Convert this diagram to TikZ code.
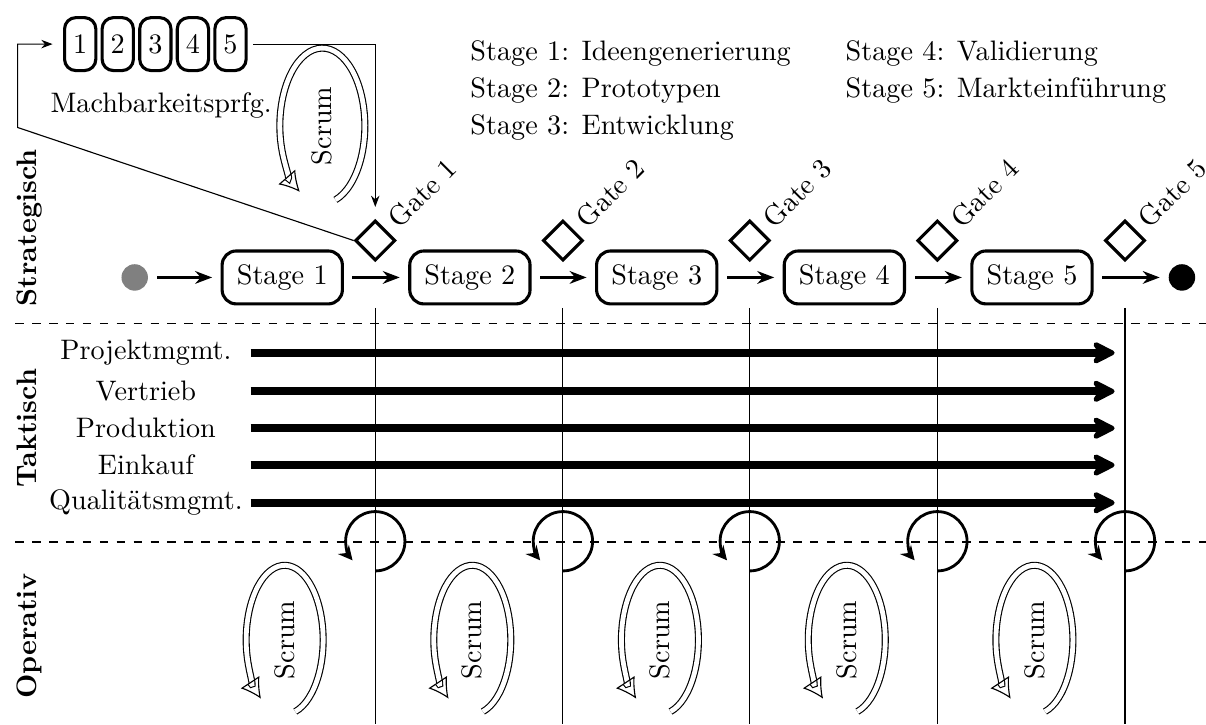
\documentclass[tikz,border=0pt]{standalone}
\usetikzlibrary{arrows.meta,shapes.geometric,positioning}

\tikzset{
  stagebox/.style={draw, line width=1.1pt, rounded corners=5pt, minimum width=1.5cm, minimum height=0.66cm},
  numbox/.style={draw, line width=1.1pt, rounded corners=4pt, minimum width=0.39cm, minimum height=0.66cm, inner sep=0pt},
  gatebox/.style={draw, diamond, aspect=1, line width=1.1pt, minimum size=0.5cm, inner sep=0pt},
  gatelabel/.style={rotate=45, anchor=west},
  dot/.style={circle, minimum size=0.33cm, inner sep=0pt},
  lane/.style={rotate=90, anchor=base, font=\bfseries},
  legend/.style={anchor=base west, inner sep=0pt},
  dept/.style={text width=2.5cm, align=center, inner sep=0.05cm},
  deptarrow/.style={line width=2.8pt, -{Stealth[round,length=10pt,width=10pt]}},
  flow/.style={line width=1pt, shorten <=3pt, shorten >=3pt},
  thinarrow/.style={thin, -{Stealth[length=4pt,width=3pt]}},
  looparrow/.style={line width=1pt, -{Stealth[length=5pt,width=5pt]}},
  scrum/.style={line width=0.4pt, double, double distance=1.7pt, -{Latex[open,length=7pt,width=8pt]}},
  lanesep/.style={thin, dashed},
  gateline/.style={thin}
}

\begin{document}
\begin{tikzpicture}[>={Stealth[length=6pt,width=4.5pt]}]
  \useasboundingbox (0,0) rectangle (15.04,9.03);

  \node[lane] (la1) at (0.46,6.19) {Strategisch};
  \node[lane] (la2) at (0.46,3.69) {Taktisch};
  \node[lane] (la3) at (0.46,1.10) {Operativ};

  \draw[lanesep] (0.19,5.00) -- (15.04,5.00);
  \draw[lanesep] (0.19,2.27) -- (15.04,2.27);

  \node[numbox] (b1) at (1.00,8.48) {1};
  \node[numbox, right=0.04cm of b1] (b2) {2};
  \node[numbox, right=0.04cm of b2] (b3) {3};
  \node[numbox, right=0.04cm of b3] (b4) {4};
  \node[numbox, right=0.04cm of b4] (b5) {5};
  \node (mb) at (2.01,7.72) {Machbarkeitsprfg.};

  \node[legend] (l1) at (5.86,8.28) {Stage 1: Ideengenerierung};
  \node[legend] (l2) at (5.86,7.82) {Stage 2: Prototypen};
  \node[legend] (l3) at (5.86,7.35) {Stage 3: Entwicklung};
  \node[legend] (l4) at (10.54,8.28) {Stage 4: Validierung};
  \node[legend] (l5) at (10.54,7.82) {Stage 5: Markteinführung};

  \node[dot, fill=gray] (st) at (1.68,5.57) {};
  \node[stagebox] (s1) at (3.52,5.57) {Stage 1}
    edge[<-, flow] (st);
  \node[stagebox] (s2) at (5.86,5.57) {Stage 2}
    edge[<-, flow] (s1);
  \node[stagebox] (s3) at (8.19,5.57) {Stage 3}
    edge[<-, flow] (s2);
  \node[stagebox] (s4) at (10.53,5.57) {Stage 4}
    edge[<-, flow] (s3);
  \node[stagebox] (s5) at (12.87,5.57) {Stage 5}
    edge[<-, flow] (s4);
  \node[dot, fill=black] (en) at (14.74,5.57) {}
    edge[<-, flow] (s5);

  \node[gatebox] (g1) at (4.68,6.03) {};
  \node[gatelabel] (gl1) at (g1.north east) {Gate 1};
  \node[gatebox] (g2) at (7.02,6.03) {};
  \node[gatelabel] (gl2) at (g2.north east) {Gate 2};
  \node[gatebox] (g3) at (9.35,6.03) {};
  \node[gatelabel] (gl3) at (g3.north east) {Gate 3};
  \node[gatebox] (g4) at (11.69,6.03) {};
  \node[gatelabel] (gl4) at (g4.north east) {Gate 4};
  \node[gatebox] (g5) at (14.03,6.03) {};
  \node[gatelabel] (gl5) at (g5.north east) {Gate 5};

  \draw[thinarrow, shorten >=0.13cm] (g1.west) -- (0.22,7.44) |- (b1);
  \draw[thinarrow, shorten >=0.15cm, shorten <=0.07cm] (b5) -| (g1);

  \node[rotate=90] (k0) at (4.02,7.46) {Scrum};
  \draw[scrum] (k0) ++(-72:0.53 and 0.97) arc[start angle=-72, end angle=238, x radius=0.53, y radius=0.97];

  \draw[gateline] (g1) ++(0,-0.84) -- ++(0,-5.19);
  \draw[gateline] (g2) ++(0,-0.84) -- ++(0,-5.19);
  \draw[gateline] (g3) ++(0,-0.84) -- ++(0,-5.19);
  \draw[gateline] (g4) ++(0,-0.84) -- ++(0,-5.19);
  \draw[gateline] (g5) ++(0,-0.84) -- ++(0,-5.19);

  \node[dept] (d1) at (1.82,4.63) {Projektmgmt.};
  \node[dept] (d2) at (1.82,4.15) {Vertrieb};
  \node[dept] (d3) at (1.82,3.69) {Produktion};
  \node[dept] (d4) at (1.82,3.23) {Einkauf};
  \node[dept] (d5) at (1.82,2.76) {Qualitätsmgmt.};
  \coordinate (e1) at (13.90,4.63);
  \coordinate (e2) at (13.90,4.15);
  \coordinate (e3) at (13.90,3.69);
  \coordinate (e4) at (13.90,3.23);
  \coordinate (e5) at (13.90,2.76);
  \draw[deptarrow] (d1) -- (e1);
  \draw[deptarrow] (d2) -- (e2);
  \draw[deptarrow] (d3) -- (e3);
  \draw[deptarrow] (d4) -- (e4);
  \draw[deptarrow] (d5) -- (e5);

  \draw[looparrow] (g1) ++(0,-4.12) arc[start angle=-90, end angle=220, radius=0.37];
  \draw[looparrow] (g2) ++(0,-4.12) arc[start angle=-90, end angle=220, radius=0.37];
  \draw[looparrow] (g3) ++(0,-4.12) arc[start angle=-90, end angle=220, radius=0.37];
  \draw[looparrow] (g4) ++(0,-4.12) arc[start angle=-90, end angle=220, radius=0.37];
  \draw[looparrow] (g5) ++(0,-4.12) arc[start angle=-90, end angle=220, radius=0.37];

  \node[rotate=90] (k1) at (3.55,1.05) {Scrum};
  \draw[scrum] (k1) ++(-74:0.48 and 0.93) arc[start angle=-74, end angle=232, x radius=0.48, y radius=0.93];
  \node[rotate=90] (k2) at (5.89,1.05) {Scrum};
  \draw[scrum] (k2) ++(-74:0.48 and 0.93) arc[start angle=-74, end angle=232, x radius=0.48, y radius=0.93];
  \node[rotate=90] (k3) at (8.23,1.05) {Scrum};
  \draw[scrum] (k3) ++(-74:0.48 and 0.93) arc[start angle=-74, end angle=232, x radius=0.48, y radius=0.93];
  \node[rotate=90] (k4) at (10.56,1.05) {Scrum};
  \draw[scrum] (k4) ++(-74:0.48 and 0.93) arc[start angle=-74, end angle=232, x radius=0.48, y radius=0.93];
  \node[rotate=90] (k5) at (12.90,1.05) {Scrum};
  \draw[scrum] (k5) ++(-74:0.48 and 0.93) arc[start angle=-74, end angle=232, x radius=0.48, y radius=0.93];
\end{tikzpicture}
\end{document}
